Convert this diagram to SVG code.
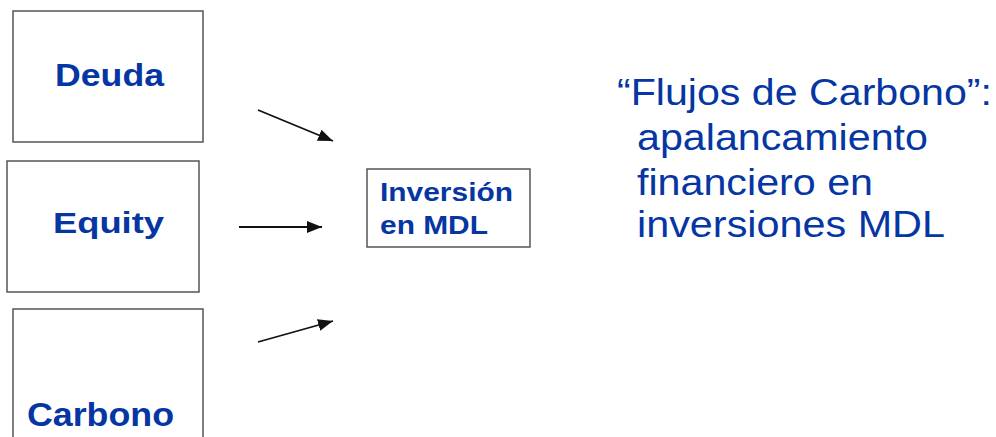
<svg xmlns="http://www.w3.org/2000/svg" width="996" height="437" viewBox="0 0 996 437">
<style>
.box{fill:#fff;stroke:#555;stroke-width:1.5}
.lbl{font-family:"Liberation Sans",Arial,sans-serif;font-weight:bold;fill:#0536a3}
.txt{font-family:"Liberation Sans",Arial,sans-serif;fill:#0536a3;font-size:36px}
.con{stroke:#111;stroke-width:1.8;fill:none;marker-end:url(#ah)}
</style>
<defs>
<marker id="ah" viewBox="0 0 15 12" refX="15" refY="6" markerWidth="15" markerHeight="12" markerUnits="userSpaceOnUse" orient="auto">
<path d="M0,0 L15,6 L0,12 Z" fill="#111"/>
</marker>
</defs>
<rect width="996" height="437" fill="#fff"/>
<g id="deuda">
<rect class="box" x="13" y="11" width="190" height="131"/>
<text class="lbl" x="55" y="86" font-size="32" textLength="109" lengthAdjust="spacingAndGlyphs">Deuda</text>
</g>
<g id="equity">
<rect class="box" x="7" y="161" width="192" height="131"/>
<text class="lbl" x="53" y="233" font-size="30" textLength="111" lengthAdjust="spacingAndGlyphs">Equity</text>
</g>
<g id="carbono">
<rect class="box" x="13" y="309" width="190" height="140"/>
<text class="lbl" x="27" y="426" font-size="33" textLength="147" lengthAdjust="spacingAndGlyphs">Carbono</text>
</g>
<g id="inversion">
<rect class="box" x="367" y="169" width="163" height="78"/>
<text class="lbl" x="380" y="201" font-size="25" textLength="133" lengthAdjust="spacingAndGlyphs">Inversión</text>
<text class="lbl" x="380" y="234" font-size="25" textLength="108" lengthAdjust="spacingAndGlyphs">en MDL</text>
</g>
<g id="connectors">
<line class="con" x1="258" y1="110" x2="333" y2="141"/>
<line class="con" x1="239" y1="227" x2="322" y2="227"/>
<line class="con" x1="258" y1="342" x2="333" y2="321"/>
</g>
<g id="caption">
<text class="txt" x="617" y="105" textLength="375" lengthAdjust="spacingAndGlyphs">“Flujos de Carbono”:</text>
<text class="txt" x="637" y="150" textLength="291" lengthAdjust="spacingAndGlyphs">apalancamiento</text>
<text class="txt" x="637" y="195" textLength="236" lengthAdjust="spacingAndGlyphs">financiero en</text>
<text class="txt" x="637" y="237" textLength="308" lengthAdjust="spacingAndGlyphs">inversiones MDL</text>
</g>
</svg>
